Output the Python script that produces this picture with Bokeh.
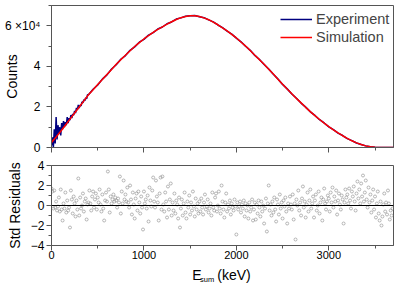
from bokeh.plotting import figure
from bokeh.layouts import column
from bokeh.models import FixedTicker, Span, Range1d, CustomLabelingPolicy
from bokeh.core.properties import value
from bokeh.embed import file_html
from bokeh.resources import INLINE

# ---------------- data ----------------
# simulation (counts / 1e4), every 50 keV from 0 to 3700
sim_e = list(range(0, 3750, 50))
sim_c = [0.25, 0.52, 0.80, 1.10, 1.40, 1.70, 2.00, 2.30, 2.60, 2.85,
         3.10, 3.35, 3.60, 3.85, 4.10, 4.33, 4.55, 4.77, 4.98, 5.17,
         5.35, 5.52, 5.67, 5.82, 5.95, 6.08, 6.20, 6.31, 6.40, 6.46,
         6.50, 6.50, 6.46, 6.39, 6.30, 6.18, 6.05, 5.90, 5.75, 5.58,
         5.40, 5.20, 5.00, 4.78, 4.55, 4.33, 4.10, 3.86, 3.62, 3.37,
         3.12, 2.88, 2.65, 2.42, 2.20, 1.98, 1.77, 1.57, 1.38, 1.20,
         1.03, 0.87, 0.72, 0.58, 0.45, 0.33, 0.23, 0.15, 0.08, 0.04,
         0.01, 0.00, 0.00, 0.00, 0.00]

# experiment (counts / 1e4)
exp_e = list(range(0, 410, 10)) + list(range(450, 3750, 50))
exp_c = [0.10, 0.50, 0.00, 0.90, 0.20, 1.50, 0.40, 1.10, 0.70, 1.00,
         0.60, 1.20, 0.90, 1.30, 1.00, 1.25, 1.10, 1.50, 1.20, 1.45,
         1.35, 1.60, 1.45, 1.65, 1.60, 1.80, 1.70, 1.95, 1.85, 2.10,
         1.95, 2.10, 2.05, 2.25, 2.20, 2.35, 2.30, 2.45, 2.40, 2.60,
         2.60,
         2.87, 3.08, 3.37, 3.58, 3.87, 4.08, 4.35, 4.53, 4.79, 4.96,
         5.19, 5.33, 5.54, 5.66, 5.84, 5.94, 6.10, 6.19, 6.33, 6.39,
         6.47, 6.49, 6.51, 6.45, 6.40, 6.29, 6.19, 6.04, 5.91, 5.74,
         5.59, 5.39, 5.21, 4.99, 4.79, 4.54, 4.34, 4.09, 3.87, 3.61,
         3.38, 3.11, 2.89, 2.64, 2.43, 2.19, 1.99, 1.76, 1.58, 1.37,
         1.21, 1.02, 0.88, 0.71, 0.59, 0.44, 0.34, 0.22, 0.15, 0.08,
         0.04, 0.01, 0.00, 0.00, 0.00, 0.00]

# standardized residuals, every 10 keV
res_e = list(range(0, 3700, 10))
res_v = [
 1.7, 1.4, -0.3, 1.5, -0.2, 0.4, -0.5, -0.1, 0.8, -0.6, 1.6, -0.4, -1.5, 0.2, -0.3, 1.3, -0.7, 0.5, -0.5, -0.2,
 -2.2, 1.5, 0.6, -0.8, 0.9, 0.2, -1.1, 0.5, -0.4, 2.7, -1.0, 0.8, -0.3, 0.0, 1.2, -0.6, 0.4, 0.7, -1.4, 0.1,
 0.3, 1.5, 0.2, -0.5, 0.9, 1.4, -0.2, 0.6, 1.2, -0.4, 0.8, 0.3, 1.6, 0.1, -0.6, 1.1, -0.3, -1.5, 0.5, 1.3,
 0.4, 3.4, 1.6, -0.7, 0.9, 0.2, 0.6, 1.1, 0.4, 0.8, 0.5, -0.2, 0.7, 0.3, 2.9, -0.8, 1.4, 0.2, 2.5, 0.6,
 1.1, 0.4, 1.8, 0.3, -0.2, 2.0, 0.6, -0.9, 1.3, 0.1, -1.3, 0.7, 1.2, -0.5, 1.4, 0.3, -0.8, 0.9, -0.2, -2.4,
 1.4, 0.2, 0.6, -0.3, 1.0, -1.6, 1.8, 0.5, -0.1, 1.5, 2.8, 0.4, -0.2, 2.5, 0.9, 0.3, -1.5, 1.2, 2.8, -0.4,
 2.9, 0.1, -0.6, 1.3, 0.4, -1.2, 1.9, -0.4, 0.6, 2.2, -1.0, 0.3, -0.5, 1.2, -0.8, 0.5, 0.1, -1.3, 0.8, -2.2,
 -0.3, 0.6, -1.0, 0.2, 1.3, -0.7, -1.3, 0.4, -0.2, 1.0, -0.9, 0.3, -0.5, 1.4, -0.1, -1.1, 0.7, -0.4, 0.2, -0.8,
 0.4, -0.6, 0.7, -0.2, -0.9, 0.3, 1.1, -0.4, -0.1, 0.6, -0.7, -0.3, 0.2, -1.0, 1.3, -0.2, -0.5, 0.8, 1.2, -0.6,
 0.0, 1.4, -0.3, -0.8, 2.0, 0.4, -0.4, -1.2, 0.3, 1.2, -0.6, 0.1, -0.3, 0.5, -0.9, 0.2, -0.2, -0.5, 0.6, -0.1,
 -2.9, 0.3, -0.4, -0.1, 0.4, -0.7, 0.1, -0.3, 0.5, -1.1, 0.2, -0.5, 0.0, -1.3, 0.3, -0.6, -0.2, 0.6, -1.5, -0.4,
 0.3, -1.4, 0.1, -0.8, 0.5, -0.2, -1.1, 0.4, -0.6, 0.0, -1.8, -0.3, 0.7, -2.6, 0.2, 2.0, -0.5, 0.1, -1.0, 0.4,
 -0.7, 0.8, -0.4, -1.6, 0.6, 0.1, -0.9, 1.1, -0.3, 0.3, -1.3, 0.5, -0.1, 0.8, -0.6, -1.8, 0.2, -0.3, 0.9, 0.1,
 -0.4, 1.1, -1.4, 0.2, -3.4, 0.6, 0.0, 1.5, -0.5, 0.3, -1.0, 0.7, 1.9, -0.2, 0.4, -1.2, 0.1, 1.3, -0.6, 0.5,
 1.6, -0.3, 0.2, 0.9, -1.2, 0.5, 1.1, -0.5, 0.0, 1.4, -0.8, 0.3, 0.8, -1.5, 0.6, 1.7, 0.2, -0.4, 0.4, 1.0,
 0.7, -0.6, 1.3, 0.3, 1.8, -0.2, 0.9, 0.4, 1.5, -0.9, 0.5, 1.2, 0.1, -0.4, 1.0, 0.6, -1.8, 0.3, 1.6, 0.8,
 1.1, 0.2, 1.7, 0.5, -0.3, 1.4, 0.9, 1.9, 0.4, -0.5, 1.2, 2.4, 0.7, 1.6, 0.2, 2.2, 0.9, 3.0, 0.4, 1.3,
 2.5, 0.6, -0.2, 1.8, 0.3, 1.1, -0.7, 0.5, 1.6, -0.4, 0.9, -1.2, 0.2, 1.4, -0.8, -1.5, 0.4, -2.0, -1.1, 0.1,
 1.2, -0.6, 0.3, -0.9, 1.5, 0.2, -1.4, -0.5, -1.0, -0.3,
]

x_ticks = [0, 1000, 2000, 3000]
x_minor = [500, 1500, 2500, 3500]
top_ticks = [0, 2, 4, 6]
top_minor = [1, 3, 5, 7]
res_ticks = [-4, -2, 0, 2, 4]
res_minor = [-3, -1, 1, 3]

# x-axis title pieces: (text, size)
xtitle = [("E", "14px"), ("sum", "7.5px"), ("(keV)", "14px")]

FONT = "Liberation Sans"
GREY = "#555555"
W = 396


def style(p):
    p.grid.visible = False
    p.outline_line_color = GREY
    p.outline_line_width = 1
    for ax in (p.xaxis[0], p.yaxis[0]):
        ax.axis_line_color = GREY
        ax.major_tick_line_color = GREY
        ax.minor_tick_line_color = GREY
        ax.major_tick_out = 5
        ax.major_tick_in = 0
        ax.minor_tick_out = 3
        ax.minor_tick_in = 0
        ax.major_label_text_font = FONT
        ax.major_label_text_font_size = "12px"
        ax.major_label_text_color = "black"
        ax.axis_label_text_font = FONT
        ax.axis_label_text_font_size = "14px"
        ax.axis_label_text_font_style = "normal"
        ax.axis_label_text_color = "black"


# ---------------- top panel ----------------
p1 = figure(width=W, height=155, output_backend="svg", toolbar_location=None,
            x_range=Range1d(0, 3700), y_range=Range1d(0, 7),
            min_border_left=49, min_border_right=3, min_border_top=5, min_border_bottom=8)
style(p1)
p1.xaxis.ticker = FixedTicker(ticks=x_ticks, minor_ticks=x_minor)
p1.xaxis.major_label_text_font_size = "0px"
p1.xaxis.major_label_standoff = 0
p1.xaxis.major_label_policy = CustomLabelingPolicy(code="return new Set()")
p1.yaxis.ticker = FixedTicker(ticks=top_ticks, minor_ticks=top_minor)
p1.yaxis.major_label_overrides = {6: "6 \u00d710\u2074"}
p1.yaxis.major_label_standoff = 6
p1.yaxis.axis_label = "Counts"
p1.yaxis.axis_label_standoff = -18

p1.line(exp_e, exp_c, line_color="#000080", line_width=1.5, legend_label="Experiment")
p1.line(sim_e, sim_c, line_color="#ff0000", line_width=1.5, legend_label="Simulation")

lg = p1.legend[0]
lg.location = (229, 101)
lg.margin = 0
lg.padding = 2
lg.spacing = 0
lg.border_line_color = None
lg.background_fill_alpha = 0
lg.glyph_width = 32
lg.glyph_height = 18
lg.label_height = 18
lg.label_standoff = 4
lg.label_text_font = FONT
lg.label_text_font_size = "14.5px"

# ---------------- residual panel ----------------
p2 = figure(width=W, height=108, output_backend="svg", toolbar_location=None,
            x_range=Range1d(0, 3700), y_range=Range1d(-4, 4),
            min_border_left=49, min_border_right=3, min_border_top=10, min_border_bottom=18)
style(p2)
p2.xaxis.ticker = FixedTicker(ticks=x_ticks, minor_ticks=x_minor)
p2.xaxis.major_label_standoff = 0
p2.xaxis.major_label_text_font_size = "11px"
p2.yaxis.ticker = FixedTicker(ticks=res_ticks, minor_ticks=res_minor)
p2.yaxis.major_label_standoff = 2
p2.yaxis.axis_label = "Std Residuals"
p2.yaxis.axis_label_standoff = 5

p2.add_layout(Span(location=0, dimension="width", line_color="black", line_width=1))
p2.scatter(res_e, res_v, marker="circle", size=3, fill_color=None,
           line_color="#8a8a8a", line_width=0.6)

# ---------------- x-axis title strip ----------------
p3 = figure(width=W, height=21, output_backend="svg", toolbar_location=None,
            x_range=Range1d(0, W), y_range=Range1d(0, 21),
            min_border_left=0, min_border_right=0, min_border_top=0, min_border_bottom=0,
            x_axis_location=None, y_axis_location=None)
p3.grid.visible = False
p3.outline_line_color = None
xpos = [163, 172, 192]
ypos = [9.5, 5.5, 9.5]
for (t, fs), xx, yy in zip(xtitle, xpos, ypos):
    p3.text(x=[xx], y=[yy], text=[t], text_font=value(FONT), text_font_size=value(fs),
            text_align="left", text_baseline="alphabetic", text_color="black")

layout = column(p1, p2, p3, spacing=0)
open("out.html", "w").write(file_html(layout, INLINE))
